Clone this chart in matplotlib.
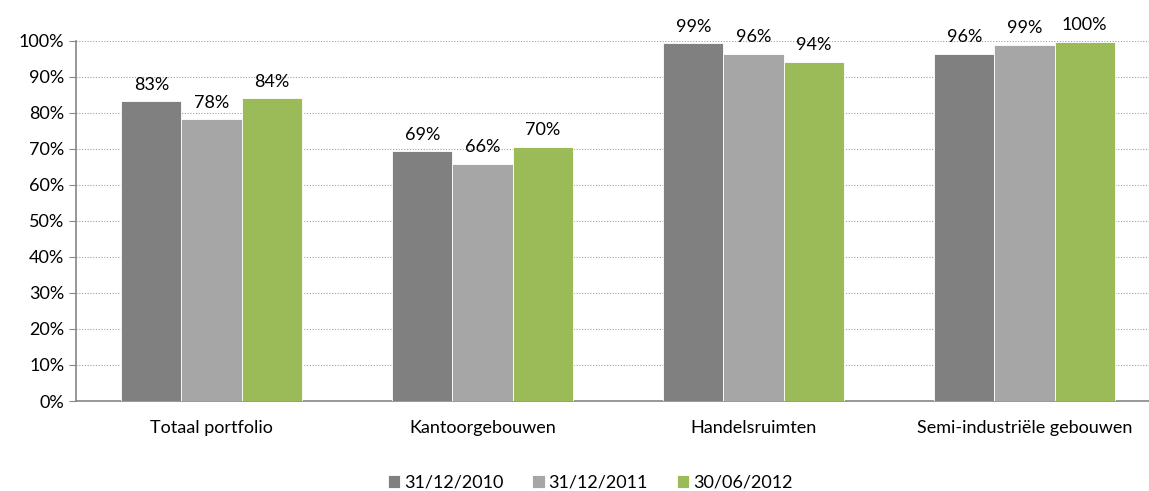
import numpy as np
import matplotlib.pyplot as plt
from matplotlib.ticker import MultipleLocator, PercentFormatter

plt.rcParams['font.family'] = ['Lato', 'DejaVu Sans']

categories = ['Totaal portfolio', 'Kantoorgebouwen', 'Handelsruimten', 'Semi-industriële gebouwen']
series_names = ['31/12/2010', '31/12/2011', '30/06/2012']
values_2010 = [83.3, 69.3, 99.4, 96.4]
values_2011 = [78.2, 65.9, 96.4, 98.9]
values_2012 = [84.1, 70.6, 94.2, 99.7]
labels_2010 = ['83%', '69%', '99%', '96%']
labels_2011 = ['78%', '66%', '96%', '99%']
labels_2012 = ['84%', '70%', '94%', '100%']
colors = ['#808080', '#A6A6A6', '#9BBB59']

fig = plt.figure(figsize=(11.49, 4.91), dpi=100)
ax = fig.add_axes([76 / 1149, 90 / 491, (1160 - 76) / 1149, (401 - 40.7) / 491])

x = np.arange(len(categories))
w = 0.222
all_vals = [values_2010, values_2011, values_2012]
all_labels = [labels_2010, labels_2011, labels_2012]
for i, (vals, labs) in enumerate(zip(all_vals, all_labels)):
    pos = x + (i - 1) * w
    ax.bar(pos, vals, w, color=colors[i], label=series_names[i],
           edgecolor='white', linewidth=0.6, zorder=3)
    for p, v, t in zip(pos, vals, labs):
        ax.annotate(t, (p, v), xytext=(0, 6), textcoords='offset points',
                    ha='center', va='bottom', fontsize=13, clip_on=False)

ax.set_xlim(-0.5, len(categories) - 0.5)
ax.set_ylim(0, 100)
ax.yaxis.set_major_locator(MultipleLocator(10))
ax.yaxis.set_major_formatter(PercentFormatter(decimals=0))
ax.set_xticks(x)
ax.set_xticklabels(categories, fontsize=13)
ax.tick_params(axis='x', which='major', length=0, pad=14)
ax.tick_params(axis='y', labelsize=13, length=5, color='#868686')
ax.grid(axis='y', linestyle=(0, (1, 1.5)), color='#A0A0A0', linewidth=0.8, zorder=0)
for s in ['top', 'right']:
    ax.spines[s].set_visible(False)
for s in ['left', 'bottom']:
    ax.spines[s].set_color('#868686')
    ax.spines[s].set_linewidth(1.2)

fig.legend(loc='center', bbox_to_anchor=(590 / 1149, 1 - 483 / 491), ncol=3,
           frameon=False, fontsize=13, handlelength=0.7, handleheight=0.7,
           handletextpad=0.2, columnspacing=1.6)

fig.savefig('out.png', dpi=100)
